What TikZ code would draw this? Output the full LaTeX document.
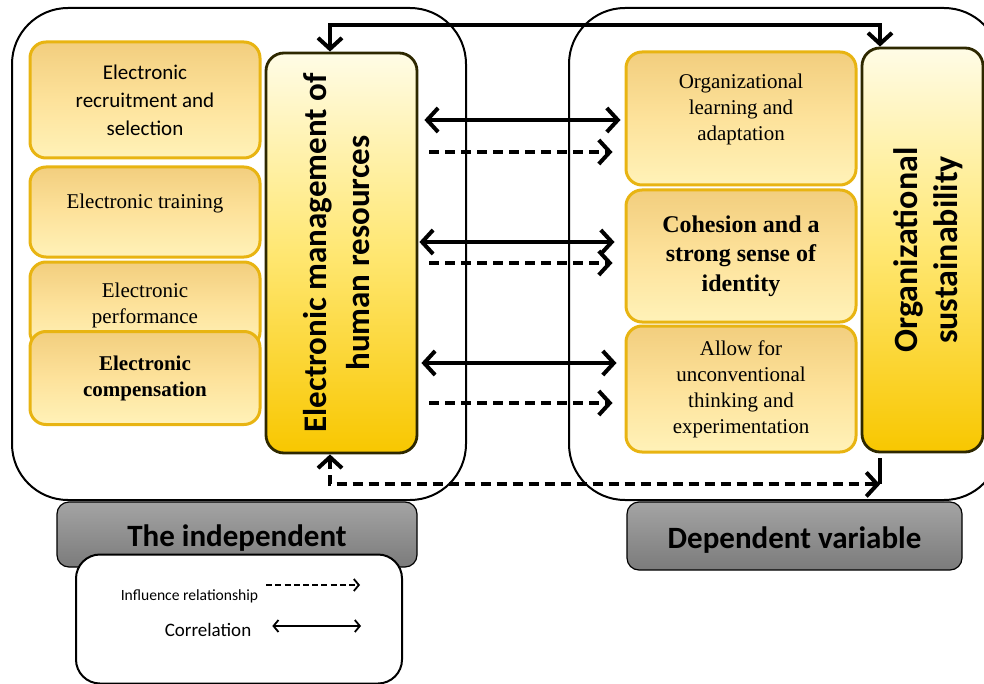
\documentclass[tikz,border=0pt]{standalone}
\usepackage{fontspec}
\setmainfont{Liberation Serif}
\setsansfont{Carlito}
\usetikzlibrary{arrows.meta}
\usetikzlibrary{calc}
\definecolor{goldline}{HTML}{E8B412}
\definecolor{goldtop}{HTML}{F2CE7E}
\definecolor{goldmid}{HTML}{FDE29B}
\definecolor{goldbot}{HTML}{FFF2B8}
\definecolor{maintop}{HTML}{FFFCE6}
\definecolor{mainmid}{HTML}{FFE772}
\definecolor{mainbot}{HTML}{F8C700}
\definecolor{mainline}{HTML}{2E2800}
\definecolor{captop}{HTML}{A4A4A4}
\definecolor{capbot}{HTML}{7B7B7B}
\tikzset{sub/.style={draw=goldline, line width=1.5pt, rounded corners=8pt, top color=goldtop, bottom color=goldbot, middle color=goldmid, align=center, inner sep=2pt, minimum width=115pt}}
\tikzset{main/.style={draw=mainline, line width=1.4pt, rounded corners=9pt, top color=maintop, bottom color=mainbot, middle color=mainmid}}
\tikzset{capbox/.style={draw=black, line width=0.6pt, rounded corners=6pt, top color=captop, bottom color=capbot, text height=15pt, text depth=3pt, font=\sffamily\bfseries\fontsize{15.5}{18}\selectfont}}
\tikzset{sf/.style={font=\sffamily\fontsize{10.5}{14}\selectfont}}
\tikzset{sv/.style={font=\fontsize{10.5}{13}\selectfont}}
\tikzset{sb/.style={font=\bfseries\fontsize{10.5}{13}\selectfont}}
\tikzset{vt/.style={rotate=90, align=center, font=\sffamily\bfseries\fontsize{16.5}{21.5}\selectfont}}
\tikzset{cor/.style={line width=2pt, {Straight Barb[length=5.5pt,width=12pt]}-{Straight Barb[length=5.5pt,width=12pt]}}}
\tikzset{inf/.style={line width=2pt, dash pattern=on 5pt off 3pt, -{Straight Barb[length=5.5pt,width=12pt]}}}
\tikzset{kcor/.style={line width=0.9pt, {Straight Barb[length=2.5pt,width=6pt]}-{Straight Barb[length=2.5pt,width=6pt]}}}
\tikzset{kinf/.style={line width=0.9pt, dash pattern=on 3pt off 1.6pt, -{Straight Barb[length=2.5pt,width=6pt]}}}
\begin{document}
\begin{tikzpicture}[x=0.5pt, y=-0.5pt]
  \useasboundingbox (0,0) rectangle (984,684);
  \clip (0,0) rectangle (984,684);
  % the two groups
  \draw[line width=1pt, rounded corners=28pt] (12,8) rectangle (466,500);
  \draw[line width=1pt, rounded corners=28pt] (569,8) rectangle (1000,500);
  % independent side
  \node[sub, sf, minimum height=58pt] (erec) at (145,100) {Electronic\\recruitment and\\selection};
  \node[sub, sv, minimum height=45pt, text depth=11pt] (etrain) at (145,212) {Electronic training};
  \node[sub, sv, minimum height=43pt] (eperf) at (145,305) {Electronic\\performance};
  \node[sub, sb, minimum height=46.5pt] (ecomp) at (145,378) {Electronic\\compensation};
  \node[main, minimum width=75.5pt, minimum height=200pt] (emhr) at (341.5,253) {};
  \node[vt] (emhrlbl) at ($(emhr)+(-5,0)$) {Electronic management of\\human resources};
  % dependent side
  \node[sub, sv, minimum height=66.5pt, text depth=11pt] (olearn) at (741,118.5) {Organizational\\learning and\\adaptation};
  \node[sub, sb, font=\bfseries\fontsize{12}{14.7}\selectfont, minimum height=66pt] (cohes) at (741,256) {Cohesion and a\\strong sense of\\identity};
  \node[sub, sv, minimum height=63pt] (unconv) at (741,389) {Allow for\\unconventional\\thinking and\\experimentation};
  \node[main, minimum width=60.5pt, minimum height=202pt] (orgsus) at (922.5,250) {};
  \node[vt, font=\sffamily\bfseries\fontsize{17}{20}\selectfont] (orgsuslbl) at ($(orgsus)+(6,0)$) {Organizational\\sustainability};
  % relations
  \draw[cor] ($(emhr.north)+(-11.5,0)$) |- ($(orgsus.north)+(-42.5,-22)$) -- ($(orgsus.north)+(-42.5,0)$);
  \draw[line width=2pt] ($(orgsus.south)+(-42.5,5)$) -- ($(orgsus.south)+(-42.5,31)$);
  \draw[inf, {Straight Barb[length=5.5pt,width=12pt]}-{Straight Barb[length=5.5pt,width=12pt]}] ($(emhr.south)+(-11.5,0)$) |- ($(orgsus.south)+(-42.5,31)$);
  \draw[cor] ($(emhr.east |- olearn.west)+(6,1.5)$) -- ($(olearn.west)+(-4,1.5)$);
  \draw[inf] ($(emhr.east |- olearn.west)+(11,33.5)$) -- ($(olearn.west)+(-12,33.5)$);
  \draw[cor] ($(emhr.east |- cohes.west)+(1,-14)$) -- ($(cohes.west)+(-10,-14)$);
  \draw[inf] ($(emhr.east |- cohes.west)+(11,7)$) -- ($(cohes.west)+(-12,7)$);
  \draw[cor] ($(emhr.east |- unconv.west)+(3,-26)$) -- ($(unconv.west)+(-8,-26)$);
  \draw[inf] ($(emhr.east |- unconv.west)+(11,14)$) -- ($(unconv.west)+(-12,14)$);
  % captions
  \node[capbox, minimum width=180pt, minimum height=32.5pt] (indep) at (237,534.5) {The independent};
  \node[capbox, minimum width=167.5pt, minimum height=34pt] (dep) at (794.5,536) {Dependent variable};
  % key
  \node[draw=black, line width=1pt, rounded corners=12pt, fill=white, minimum width=163pt, minimum height=64.5pt] (key) at (239,619) {};
  \node[font=\sffamily\fontsize{7.8}{9}\selectfont] (inflbl) at (189.5,596) {Influence relationship};
  \coordinate (infend) at (360,585);
  \draw[kinf] ($(inflbl.east)+(1,-11)$) -- (infend);
  \node[font=\sffamily\fontsize{9.5}{11}\selectfont] (corlbl) at (208,630) {Correlation};
  \coordinate (corend) at (361,626);
  \draw[kcor] ($(corlbl.east)+(14,-4)$) -- (corend);
\end{tikzpicture}
\end{document}
